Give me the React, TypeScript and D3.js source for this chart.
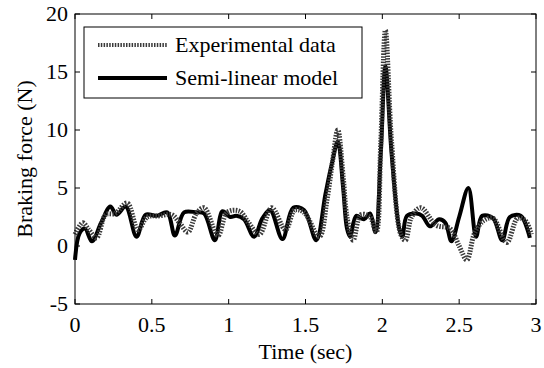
import React, { useEffect, useRef } from 'react';
import * as d3 from 'd3';

// experimental data (dotted)
const expTime = [0.00, 0.05, 0.09, 0.14, 0.20, 0.26, 0.34, 0.41, 0.47, 0.55, 0.63, 0.68, 0.735, 0.79, 0.84, 0.93, 0.99, 1.07, 1.13, 1.20, 1.28, 1.37, 1.43, 1.49, 1.59, 1.64, 1.675, 1.71, 1.745, 1.77, 1.81, 1.86, 1.92, 1.96, 1.99, 2.02, 2.06, 2.12, 2.15, 2.19, 2.25, 2.35, 2.44, 2.50, 2.55, 2.60, 2.66, 2.72, 2.81, 2.88, 2.93, 2.97];
const expForce = [1.0, 2.0, 1.4, 0.7, 2.7, 2.8, 3.7, 1.4, 2.5, 2.6, 2.7, 2.0, 1.2, 2.8, 3.3, 0.9, 2.9, 3.0, 2.0, 1.0, 3.3, 1.4, 3.1, 2.9, 0.8, 4.0, 7.2, 10.0, 6.0, 2.5, 0.5, 2.7, 2.5, 1.2, 9.0, 18.6, 9.0, 1.0, 0.5, 2.5, 3.3, 1.8, 1.5, 0.0, -1.2, 1.1, 2.2, 2.4, 0.3, 2.4, 2.2, 1.0];

// semi-linear model (solid)
const modelTime = [0.00, 0.03, 0.065, 0.11, 0.17, 0.23, 0.27, 0.33, 0.40, 0.46, 0.53, 0.60, 0.65, 0.71, 0.79, 0.84, 0.91, 0.96, 1.01, 1.05, 1.10, 1.165, 1.22, 1.27, 1.35, 1.42, 1.49, 1.57, 1.63, 1.67, 1.71, 1.745, 1.77, 1.79, 1.83, 1.88, 1.92, 1.955, 1.99, 2.02, 2.06, 2.11, 2.13, 2.16, 2.22, 2.26, 2.31, 2.37, 2.41, 2.45, 2.50, 2.56, 2.61, 2.65, 2.72, 2.78, 2.83, 2.90, 2.96];
const modelForce = [-1.2, 1.1, 1.5, 0.4, 2.0, 3.4, 2.7, 3.4, 0.8, 2.7, 2.6, 2.9, 0.9, 2.9, 2.9, 2.8, 0.5, 3.0, 2.5, 2.6, 2.3, 0.8, 2.4, 3.1, 0.6, 3.3, 3.1, 0.5, 4.5, 7.0, 9.0, 5.0, 1.5, 0.8, 2.6, 2.3, 2.8, 1.2, 8.0, 15.5, 8.0, 1.5, 0.8, 2.6, 2.8, 2.6, 1.7, 2.3, 2.0, 0.4, 2.5, 5.0, 0.8, 2.6, 2.4, 0.5, 2.5, 2.6, 0.7];

const xTicks = [0, 0.5, 1, 1.5, 2, 2.5, 3];
const yTicks = [-5, 0, 5, 10, 15, 20];
const legendLabels = ['Experimental data', 'Semi-linear model'];

const width = 544;
const height = 368;
const font = '"Liberation Serif", "Times New Roman", serif';

const App: React.FC = () => {
    const svgRef = useRef<SVGSVGElement | null>(null);

    useEffect(() => {
        const svg = d3.select(svgRef.current);
        svg.selectAll('*').remove();

        const margin = { top: 14, right: 8, bottom: 64, left: 75 };
        const x = d3.scaleLinear().domain([0, 3]).range([margin.left, width - margin.right]);
        const y = d3.scaleLinear().domain([-5, 20]).range([height - margin.bottom, margin.top]);

        const x0 = x(0), x1 = x(3), y0 = y(-5), y1 = y(20);
        const tickLen = 5;

        const line = d3.line<[number, number]>()
            .x(d => x(d[0]))
            .y(d => y(d[1]))
            .curve(d3.curveCatmullRom.alpha(0.5));

        const model = modelTime.map((t, i) => [t, modelForce[i]] as [number, number]);
        const exp = expTime.map((t, i) => [t, expForce[i]] as [number, number]);

        const plot = svg.append('g');

        plot.append('path')
            .attr('d', line(model))
            .attr('fill', 'none')
            .attr('stroke', '#000')
            .attr('stroke-width', 4)
            .attr('stroke-linejoin', 'round');

        plot.append('path')
            .attr('d', line(exp))
            .attr('fill', 'none')
            .attr('stroke', '#3a3a3a')
            .attr('stroke-width', 5)
            .attr('stroke-dasharray', '1.5,1.3');

        // frame
        svg.append('rect')
            .attr('x', x0).attr('y', y1)
            .attr('width', x1 - x0).attr('height', y0 - y1)
            .attr('fill', 'none').attr('stroke', '#000').attr('stroke-width', 1);

        // ticks, inward on all sides
        const ticks = svg.append('g').attr('stroke', '#000').attr('stroke-width', 1);
        xTicks.forEach(t => {
            ticks.append('line').attr('x1', x(t)).attr('x2', x(t)).attr('y1', y0).attr('y2', y0 - tickLen);
            ticks.append('line').attr('x1', x(t)).attr('x2', x(t)).attr('y1', y1).attr('y2', y1 + tickLen);
        });
        yTicks.forEach(v => {
            ticks.append('line').attr('x1', x0).attr('x2', x0 + tickLen).attr('y1', y(v)).attr('y2', y(v));
            ticks.append('line').attr('x1', x1).attr('x2', x1 - tickLen).attr('y1', y(v)).attr('y2', y(v));
        });

        const labels = svg.append('g')
            .attr('font-family', font)
            .attr('font-size', 22)
            .attr('fill', '#000');

        xTicks.forEach(t => {
            labels.append('text')
                .attr('x', x(t)).attr('y', y0 + 28)
                .attr('text-anchor', 'middle')
                .text(String(t));
        });
        yTicks.forEach(v => {
            labels.append('text')
                .attr('x', x0 - 7).attr('y', y(v) + 7)
                .attr('text-anchor', 'end')
                .text(String(v));
        });

        labels.append('text')
            .attr('x', (x0 + x1) / 2).attr('y', 359)
            .attr('text-anchor', 'middle')
            .text('Time (sec)');

        labels.append('text')
            .attr('transform', `translate(32, ${(y0 + y1) / 2}) rotate(-90)`)
            .attr('text-anchor', 'middle')
            .text('Braking force (N)');

        // legend
        const legend = svg.append('g');
        legend.append('rect')
            .attr('x', 84).attr('y', 27).attr('width', 278).attr('height', 71)
            .attr('fill', '#fff').attr('stroke', '#000').attr('stroke-width', 1);

        const rows = [
            { label: legendLabels[0], dy: 45, dashed: true },
            { label: legendLabels[1], dy: 78, dashed: false },
        ];
        rows.forEach(r => {
            legend.append('line')
                .attr('x1', 98).attr('x2', 167).attr('y1', r.dy).attr('y2', r.dy)
                .attr('stroke', r.dashed ? '#3a3a3a' : '#000')
                .attr('stroke-width', 4)
                .attr('stroke-dasharray', r.dashed ? '1.5,1.3' : null);
            legend.append('text')
                .attr('x', 175).attr('y', r.dy + 7)
                .attr('font-family', font).attr('font-size', 22)
                .text(r.label);
        });
    }, []);

    return (
        <svg ref={svgRef} width={width} height={height}
            style={{ position: 'absolute', left: 0, top: 0, background: '#fff' }} />
    );
};

export default App;
